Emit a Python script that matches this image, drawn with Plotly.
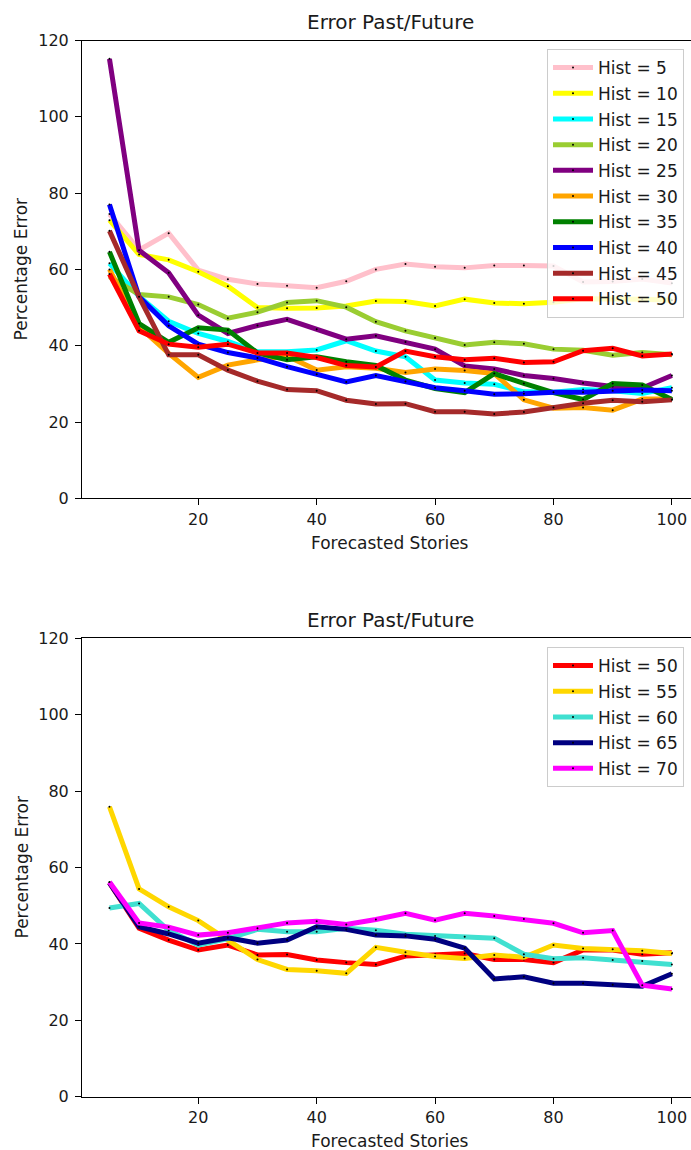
import plotly.graph_objects as go

# ---------------- data ----------------
stories = [5, 10, 15, 20, 25, 30, 35, 40, 45, 50, 55, 60, 65, 70, 75, 80, 85, 90, 95, 100]

top_labels = ["Hist = 5", "Hist = 10", "Hist = 15", "Hist = 20", "Hist = 25",
              "Hist = 30", "Hist = 35", "Hist = 40", "Hist = 45", "Hist = 50"]
top_colors = ["pink", "yellow", "cyan", "yellowgreen", "purple",
              "orange", "green", "blue", "brown", "red"]

hist5 = [74.5, 65.1, 69.5, 59.8, 57.4, 56.2, 55.7, 55.2, 56.9, 60.0, 61.4, 60.7, 60.4, 61.0, 61.0, 60.9, 56.7, 56.8, 57.5, 56.4]
hist10 = [72.9, 63.9, 62.5, 59.4, 55.6, 50.0, 49.8, 49.9, 50.4, 51.7, 51.6, 50.4, 52.2, 51.2, 51.0, 51.4, 52.3, 52.4, 52.2, 51.9]
hist15 = [61.6, 52.9, 46.4, 43.2, 41.1, 38.4, 38.4, 38.9, 41.3, 38.6, 37.1, 31.0, 30.2, 29.9, 27.9, 27.8, 28.5, 28.2, 27.5, 29.0]
hist20 = [58.1, 53.4, 52.8, 50.8, 47.2, 48.8, 51.3, 51.8, 50.1, 46.3, 43.9, 42.0, 40.2, 40.9, 40.5, 39.1, 38.8, 37.5, 38.2, 37.6]
hist25 = [115.2, 65.0, 59.1, 48.0, 43.2, 45.3, 46.9, 44.3, 41.7, 42.6, 41.0, 39.1, 34.7, 33.9, 32.2, 31.4, 30.2, 29.3, 28.9, 32.2]
hist30 = [60.0, 45.0, 38.0, 31.7, 34.9, 36.3, 37.3, 33.6, 34.5, 34.1, 33.0, 33.9, 33.5, 32.7, 25.8, 23.6, 23.8, 23.1, 26.0, 26.0]
hist35 = [64.6, 45.8, 40.9, 44.7, 44.1, 38.1, 36.3, 37.1, 35.8, 34.8, 31.0, 28.8, 27.7, 32.7, 30.1, 27.7, 25.9, 30.1, 29.7, 25.9]
hist40 = [77.0, 52.8, 45.2, 40.4, 38.2, 36.8, 34.5, 32.5, 30.5, 32.2, 30.6, 29.0, 28.2, 27.3, 27.4, 27.8, 27.8, 28.2, 28.4, 28.2]
hist45 = [70.1, 52.8, 37.6, 37.6, 33.6, 30.7, 28.5, 28.2, 25.7, 24.7, 24.8, 22.7, 22.7, 22.1, 22.6, 23.8, 24.9, 25.7, 25.3, 25.8]
hist50 = [58.8, 43.9, 40.4, 39.6, 40.4, 38.1, 38.1, 36.9, 34.8, 34.4, 38.6, 37.1, 36.3, 36.7, 35.6, 35.8, 38.7, 39.3, 37.3, 37.8]

bottom_labels = ["Hist = 50", "Hist = 55", "Hist = 60", "Hist = 65", "Hist = 70"]
bottom_colors = ["red", "gold", "turquoise", "navy", "magenta"]

hist50_b = [56.0, 44.1, 41.0, 38.4, 39.7, 37.1, 37.2, 35.8, 35.1, 34.6, 36.8, 37.3, 37.5, 35.9, 35.9, 35.1, 38.4, 38.4, 37.3, 37.7]
hist55 = [75.9, 54.4, 49.7, 46.1, 41.0, 35.9, 33.3, 33.0, 32.3, 39.1, 37.8, 36.7, 36.2, 37.1, 36.5, 39.7, 38.8, 38.6, 38.2, 37.5]
hist60 = [49.4, 50.6, 43.5, 39.7, 41.4, 43.8, 43.2, 43.2, 44.1, 43.6, 42.5, 42.1, 41.9, 41.5, 37.3, 36.1, 36.4, 35.8, 35.5, 34.6]
hist65 = [56.0, 44.5, 42.6, 40.2, 41.6, 40.2, 41.0, 44.5, 43.8, 42.3, 42.1, 41.2, 38.9, 30.8, 31.4, 29.7, 29.7, 29.3, 28.9, 32.2]
hist70 = [56.2, 45.5, 44.4, 42.3, 42.9, 44.1, 45.5, 45.9, 45.1, 46.4, 48.0, 46.2, 48.0, 47.3, 46.5, 45.4, 42.9, 43.5, 29.2, 28.2]

top_series = [hist5, hist10, hist15, hist20, hist25, hist30, hist35, hist40, hist45, hist50]
bottom_series = [hist50_b, hist55, hist60, hist65, hist70]

x_ticks = [20, 40, 60, 80, 100]
y_ticks = [0, 20, 40, 60, 80, 100, 120]

# ---------------- figure ----------------
W, H = 691, 1150
FONT = "DejaVu Sans"
TXT = "#1a1a1a"

fig = go.Figure()

for lab, col, ys in zip(top_labels, top_colors, top_series):
    fig.add_trace(go.Scatter(
        x=stories, y=ys, name=lab, mode="lines+markers",
        line=dict(color=col, width=5),
        marker=dict(color="black", size=2),
        xaxis="x", yaxis="y", legend="legend", legendgroup="t" + lab))

for lab, col, ys in zip(bottom_labels, bottom_colors, bottom_series):
    fig.add_trace(go.Scatter(
        x=stories, y=ys, name=lab, mode="lines+markers",
        line=dict(color=col, width=5),
        marker=dict(color="black", size=2),
        xaxis="x2", yaxis="y2", legend="legend2", legendgroup="b" + lab))

def px_y(p):
    return 1 - p / H

top_dom = [px_y(498.3), px_y(40.5)]
bot_dom = [px_y(1096.7), px_y(638.3)]
xr = [0.36, 103.23]

ax_common = dict(showgrid=False, zeroline=False, showline=True, linecolor="black",
                 linewidth=1, ticks="outside", ticklen=6, tickwidth=1, tickcolor="black",
                 automargin=False,
                 tickfont=dict(family=FONT, size=16, color=TXT))

leg_common = dict(xanchor="left", yanchor="top",
                  bgcolor="rgba(255,255,255,0.8)", bordercolor="#cccccc", borderwidth=1,
                  font=dict(family=FONT, size=17, color=TXT), tracegroupgap=0.6,
                  traceorder="grouped", itemwidth=40)

fig.update_layout(
    width=W, height=H,
    margin=dict(l=0, r=0, t=0, b=0, autoexpand=False),
    paper_bgcolor="white", plot_bgcolor="white",
    showlegend=True,
    xaxis=dict(domain=[82 / W, 1.0], range=xr, tickvals=x_ticks, anchor="y",
               mirror=True, **ax_common),
    yaxis=dict(domain=top_dom, range=[0, 120], tickvals=y_ticks, anchor="x",
               ticklabelstandoff=3, **ax_common),
    xaxis2=dict(domain=[82 / W, 1.0], range=xr, tickvals=x_ticks, anchor="y2",
                mirror=True, **ax_common),
    yaxis2=dict(domain=bot_dom, range=[0, 120], tickvals=y_ticks, anchor="x2",
                ticklabelstandoff=3, **ax_common),
    legend=dict(x=547 / W, y=px_y(49), **leg_common),
    legend2=dict(x=547 / W, y=px_y(647), **leg_common),
)

annos = [
    dict(text="Error Past/Future", x=390 / W, y=px_y(22), size=20),
    dict(text="Error Past/Future", x=390 / W, y=px_y(620), size=20),
    dict(text="Forecasted Stories", x=390 / W, y=px_y(543), size=17),
    dict(text="Forecasted Stories", x=390 / W, y=px_y(1141), size=17),
]
for a in annos:
    fig.add_annotation(text=a["text"], x=a["x"], y=a["y"], xref="paper", yref="paper",
                       xanchor="center", yanchor="middle", showarrow=False,
                       font=dict(family=FONT, size=a["size"], color=TXT))
for yc in [269.4, 867.5]:
    fig.add_annotation(text="Percentage Error", x=21 / W, y=px_y(yc), xref="paper", yref="paper",
                       xanchor="center", yanchor="middle", showarrow=False, textangle=-90,
                       font=dict(family=FONT, size=17, color=TXT))

fig.write_html("out.html")
